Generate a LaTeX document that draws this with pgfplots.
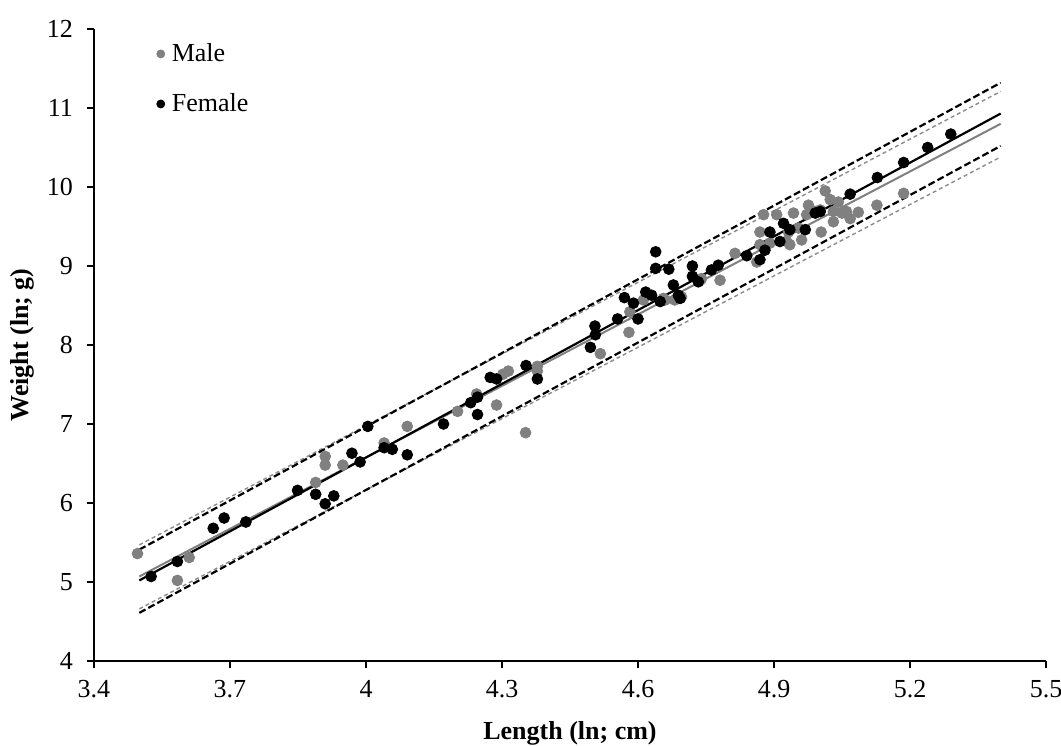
\documentclass[border=0pt]{standalone}
\usepackage{fontspec}
\setmainfont{Liberation Serif}
\usepackage{pgfplots}
\pgfplotsset{compat=1.18}
\definecolor{mgray}{RGB}{128,128,128}
\definecolor{lgray}{RGB}{140,140,140}
\begin{document}
\begin{tikzpicture}
\useasboundingbox (-47pt,-42pt) rectangle (483.5pt,330.5pt);
\begin{axis}[
  scale only axis, width=476pt, height=316pt,
  xmin=3.4, xmax=5.5, ymin=4, ymax=12,
  xtick={3.4,3.7,4,4.3,4.6,4.9,5.2,5.5},
  xticklabels={3.4,3.7,4,4.3,4.6,4.9,5.2,5.5},
  ytick={4,5,...,12},
  axis x line*=bottom, axis y line*=left,
  axis line style={line width=0.8pt, -},
  tick style={line width=0.8pt, black},
  tick align=outside, major tick length=3.5pt,
  /pgf/number format/assume math mode=true,
  ticklabel style={font=\fontsize{13}{15}\selectfont},
  xticklabel style={yshift=-2.5pt},
  yticklabel style={xshift=-3.5pt},
  xlabel={\textbf{Length (ln; cm)}},
  ylabel={\textbf{Weight (ln; g)}},
  label style={font=\fontsize{13}{15}\selectfont},
  xlabel style={at={(axis description cs:0.5,0)}, anchor=center, yshift=-36pt},
  ylabel style={at={(axis description cs:0,0.5)}, anchor=center, yshift=36pt},
  legend style={at={(axis description cs:0,1)}, anchor=north west, xshift=28pt, yshift=-4pt,
    draw=none, fill=none, font=\fontsize{13}{15}\selectfont, row sep=12.5pt,
    nodes={inner sep=1pt}},
  legend cell align=left,
  legend image code/.code={\path[draw=none,fill=none] (-2pt,-2pt) rectangle (4.5pt,2pt); \fill (0pt,0pt) circle (2pt);},
  clip=false,
]
\addplot[only marks, mark=*, mark size=2.7pt, color=mgray, mark options={draw=mgray, fill=mgray}] table {
3.496 5.36
3.584 5.02
3.610 5.31
3.735 5.76
3.889 6.26
3.910 6.59
3.910 6.48
3.949 6.48
4.040 6.76
4.091 6.97
4.202 7.16
4.244 7.38
4.288 7.24
4.302 7.63
4.314 7.67
4.378 7.73
4.378 7.67
4.352 6.89
4.517 7.89
4.580 8.16
4.582 8.42
4.612 8.57
4.656 8.59
4.660 8.57
4.681 8.57
4.696 8.61
4.737 8.82
4.740 8.84
4.781 8.82
4.814 9.16
4.862 9.05
4.869 9.27
4.869 9.43
4.877 9.65
4.891 9.29
4.906 9.65
4.928 9.31
4.932 9.43
4.935 9.27
4.943 9.67
4.954 9.48
4.961 9.33
4.972 9.65
4.976 9.77
4.990 9.69
5.002 9.71
5.004 9.43
5.013 9.95
5.024 9.84
5.031 9.56
5.031 9.69
5.042 9.81
5.050 9.67
5.060 9.69
5.068 9.60
5.086 9.68
5.127 9.77
5.186 9.92
};
\addlegendentry{Male}
\addplot[only marks, mark=*, mark size=2.7pt, color=black, mark options={draw=black, fill=black}] table {
3.526 5.07
3.584 5.26
3.663 5.68
3.687 5.81
3.735 5.76
3.849 6.16
3.889 6.11
3.910 5.99
3.929 6.09
3.969 6.63
3.987 6.52
4.004 6.97
4.040 6.70
4.058 6.68
4.091 6.61
4.171 7.00
4.231 7.27
4.246 7.34
4.246 7.12
4.274 7.59
4.288 7.57
4.353 7.74
4.378 7.57
4.495 7.97
4.505 8.24
4.506 8.13
4.555 8.33
4.570 8.60
4.590 8.53
4.600 8.33
4.617 8.67
4.630 8.63
4.639 9.18
4.639 8.97
4.649 8.55
4.668 8.96
4.678 8.76
4.689 8.63
4.693 8.59
4.720 9.00
4.720 8.87
4.733 8.80
4.762 8.95
4.777 9.01
4.840 9.13
4.869 9.08
4.880 9.20
4.891 9.43
4.913 9.31
4.921 9.54
4.935 9.46
4.969 9.46
4.991 9.67
5.002 9.69
5.068 9.91
5.128 10.12
5.186 10.31
5.239 10.50
5.290 10.67
};
\addlegendentry{Female}
% regression and prediction lines
\addplot[forget plot, lgray, line width=0.7pt, dash pattern=on 2pt off 1.5pt] coordinates {(3.5,5.47) (5.4,11.21)};
\addplot[forget plot, lgray, line width=0.7pt, dash pattern=on 2pt off 1.5pt] coordinates {(3.5,4.66) (5.4,10.38)};
\addplot[forget plot, black, line width=1.1pt, dash pattern=on 3.5pt off 1.6pt] coordinates {(3.5,5.41) (5.4,11.32)};
\addplot[forget plot, black, line width=1.1pt, dash pattern=on 3.5pt off 1.6pt] coordinates {(3.5,4.61) (5.4,10.52)};
\addplot[forget plot, mgray, line width=1pt] coordinates {(3.5,5.07) (5.4,10.80)};
\addplot[forget plot, black, line width=1.1pt] coordinates {(3.5,5.02) (5.4,10.93)};
\end{axis}
\end{tikzpicture}
\end{document}
